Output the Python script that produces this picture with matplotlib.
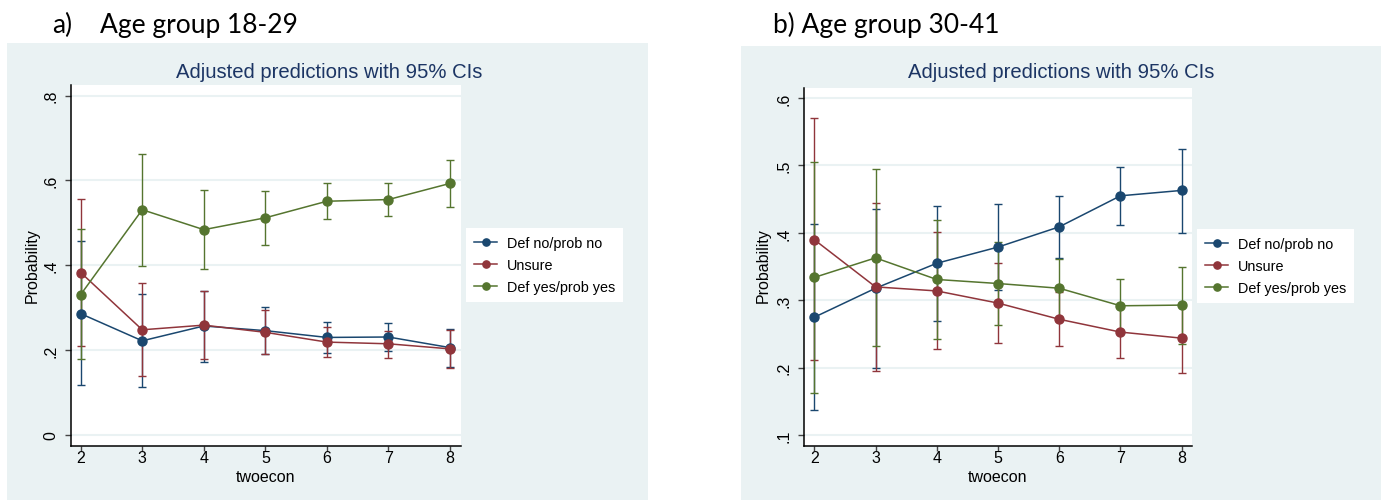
import matplotlib
matplotlib.use("Agg")
import matplotlib.pyplot as plt
from matplotlib.patches import Rectangle
from matplotlib.lines import Line2D

# ---------------- data ----------------
x_vals = [2, 3, 4, 5, 6, 7, 8]
series_names = ["Def no/prob no", "Unsure", "Def yes/prob yes"]

# Panel a) Age group 18-29
a_no = [0.286, 0.222, 0.257, 0.246, 0.230, 0.231, 0.206]
a_no_lo = [0.117, 0.112, 0.173, 0.190, 0.193, 0.197, 0.160]
a_no_hi = [0.457, 0.332, 0.340, 0.302, 0.266, 0.265, 0.250]
a_uns = [0.383, 0.248, 0.259, 0.242, 0.219, 0.215, 0.203]
a_uns_lo = [0.210, 0.138, 0.180, 0.190, 0.184, 0.182, 0.159]
a_uns_hi = [0.556, 0.358, 0.339, 0.295, 0.254, 0.246, 0.248]
a_yes = [0.331, 0.531, 0.484, 0.512, 0.551, 0.555, 0.593]
a_yes_lo = [0.178, 0.398, 0.392, 0.449, 0.508, 0.516, 0.538]
a_yes_hi = [0.485, 0.663, 0.577, 0.575, 0.593, 0.595, 0.649]

# Panel b) Age group 30-41
b_no = [0.275, 0.318, 0.355, 0.379, 0.409, 0.455, 0.463]
b_no_lo = [0.138, 0.200, 0.270, 0.316, 0.363, 0.412, 0.400]
b_no_hi = [0.413, 0.435, 0.440, 0.443, 0.454, 0.498, 0.525]
b_uns = [0.390, 0.320, 0.314, 0.296, 0.272, 0.253, 0.244]
b_uns_lo = [0.211, 0.195, 0.228, 0.237, 0.233, 0.215, 0.192]
b_uns_hi = [0.570, 0.444, 0.401, 0.355, 0.313, 0.291, 0.296]
b_yes = [0.334, 0.363, 0.331, 0.325, 0.318, 0.292, 0.293]
b_yes_lo = [0.163, 0.232, 0.243, 0.263, 0.275, 0.253, 0.236]
b_yes_hi = [0.505, 0.494, 0.419, 0.387, 0.362, 0.332, 0.350]

a_yticks = [0, 0.2, 0.4, 0.6, 0.8]
a_yticklabels = ["0", ".2", ".4", ".6", ".8"]
b_yticks = [0.1, 0.2, 0.3, 0.4, 0.5, 0.6]
b_yticklabels = [".1", ".2", ".3", ".4", ".5", ".6"]

colors = ["#1a476f", "#90353b", "#55752f"]
BG = "#eaf2f3"
W, H = 1381, 502

fig = plt.figure(figsize=(W / 100, H / 100), dpi=100)
fig.patch.set_facecolor("white")


def fx(px):
    return px / W


def fy(py):
    return 1 - py / H


def add_bg(x0, y0, x1, y1):
    fig.patches.append(Rectangle((fx(x0), fy(y1)), fx(x1) - fx(x0), fy(y0) - fy(y1),
                                 transform=fig.transFigure, facecolor=BG,
                                 edgecolor="none", zorder=-10))


def panel(ax_rect, series, yticks, yticklabels, ylim, xlim, ylabel_x,
          title_cx, legend_xy):
    ax = fig.add_axes(ax_rect)
    ax.set_zorder(5)
    ax.set_facecolor("white")
    for yt in yticks:
        ax.axhline(yt, color=BG, lw=1.5, zorder=0.5)
    for i, (m, lo, hi) in enumerate(series):
        c = colors[i]
        yerr = [[mm - ll for mm, ll in zip(m, lo)], [hh - mm for mm, hh in zip(m, hi)]]
        ax.errorbar(x_vals, m, yerr=yerr, fmt="none", ecolor=c, elinewidth=1.0,
                    capsize=3, capthick=1.0, zorder=2 + i * 0.1)
    for i, (m, lo, hi) in enumerate(series):
        ax.plot(x_vals, m, color=colors[i], lw=1.1, marker="o", markersize=6.5,
                zorder=3 + i * 0.1)
    ax.set_xlim(*xlim)
    ax.set_ylim(*ylim)
    ax.set_xticks(x_vals)
    ax.set_xticklabels([str(v) for v in x_vals], fontsize=11.5, family="Liberation Sans")
    ax.set_yticks(yticks)
    ax.set_yticklabels(yticklabels, fontsize=11.5, family="Liberation Sans",
                       rotation=90, va="center")
    for s in ["top", "right"]:
        ax.spines[s].set_visible(False)
    for s in ["left", "bottom"]:
        ax.spines[s].set_linewidth(1.1)
    ax.tick_params(axis="x", direction="out", length=3.6, width=1.0, color="#444444", pad=-0.5)
    ax.tick_params(axis="y", direction="out", length=4.5, width=1.0, color="#444444", pad=4.5)
    cx = (ax_rect[0] + ax_rect[0] + ax_rect[2]) / 2
    fig.text(cx, fy(478), "twoecon", ha="center", va="center",
             fontsize=11.5, family="Liberation Sans")
    fig.text(fx(ylabel_x), fy(266), "Probability", rotation=90, ha="center", va="center",
             fontsize=11.5, family="Liberation Sans")
    fig.text(fx(title_cx), fy(73), "Adjusted predictions with 95% CIs", ha="center",
             va="center", fontsize=14.6, family="Liberation Sans", color="#1c3564")
    handles = [Line2D([0], [0], color=colors[i], lw=1.1, marker="o", markersize=5.2)
               for i in range(3)]
    leg = fig.legend(handles, series_names, loc="center left",
                     bbox_to_anchor=(fx(legend_xy[0]), fy(legend_xy[1])),
                     frameon=True, fancybox=False, framealpha=1, edgecolor="white",
                     facecolor="white", prop={"family": "Liberation Sans", "size": 10.4},
                     handlelength=1.6, handletextpad=0.7, labelspacing=0.58,
                     borderpad=0.55, borderaxespad=0)
    leg.get_frame().set_linewidth(0)
    leg.set_zorder(6)
    return ax


add_bg(7, 44, 648, 501)
add_bg(741, 47, 1381, 501)

ax1 = panel([fx(70.7), fy(446.7), fx(460.7) - fx(70.7), fy(86) - fy(446.7)],
            [(a_no, a_no_lo, a_no_hi), (a_uns, a_uns_lo, a_uns_hi), (a_yes, a_yes_lo, a_yes_hi)],
            a_yticks, a_yticklabels, (-0.0252, 0.825), (1.8375, 8.174),
            32, 329, (466, 266))
ax2 = panel([fx(804.3), fy(446.7), fx(1191.7) - fx(804.3), fy(89) - fy(446.7)],
            [(b_no, b_no_lo, b_no_hi), (b_uns, b_uns_lo, b_uns_hi), (b_yes, b_yes_lo, b_yes_hi)],
            b_yticks, b_yticklabels, (0.0846, 0.6148), (1.837, 8.163),
            763, 1061, (1197, 267))

fig.text(fx(52), fy(25), "a)", fontsize=19, family="Lato", va="center", ha="left")
fig.text(fx(100), fy(25), "Age group 18-29", fontsize=19, family="Lato", va="center", ha="left")
fig.text(fx(773), fy(25), "b) Age group 30-41", fontsize=19, family="Lato", va="center", ha="left")

fig.savefig("out.png", dpi=100, facecolor="white")
